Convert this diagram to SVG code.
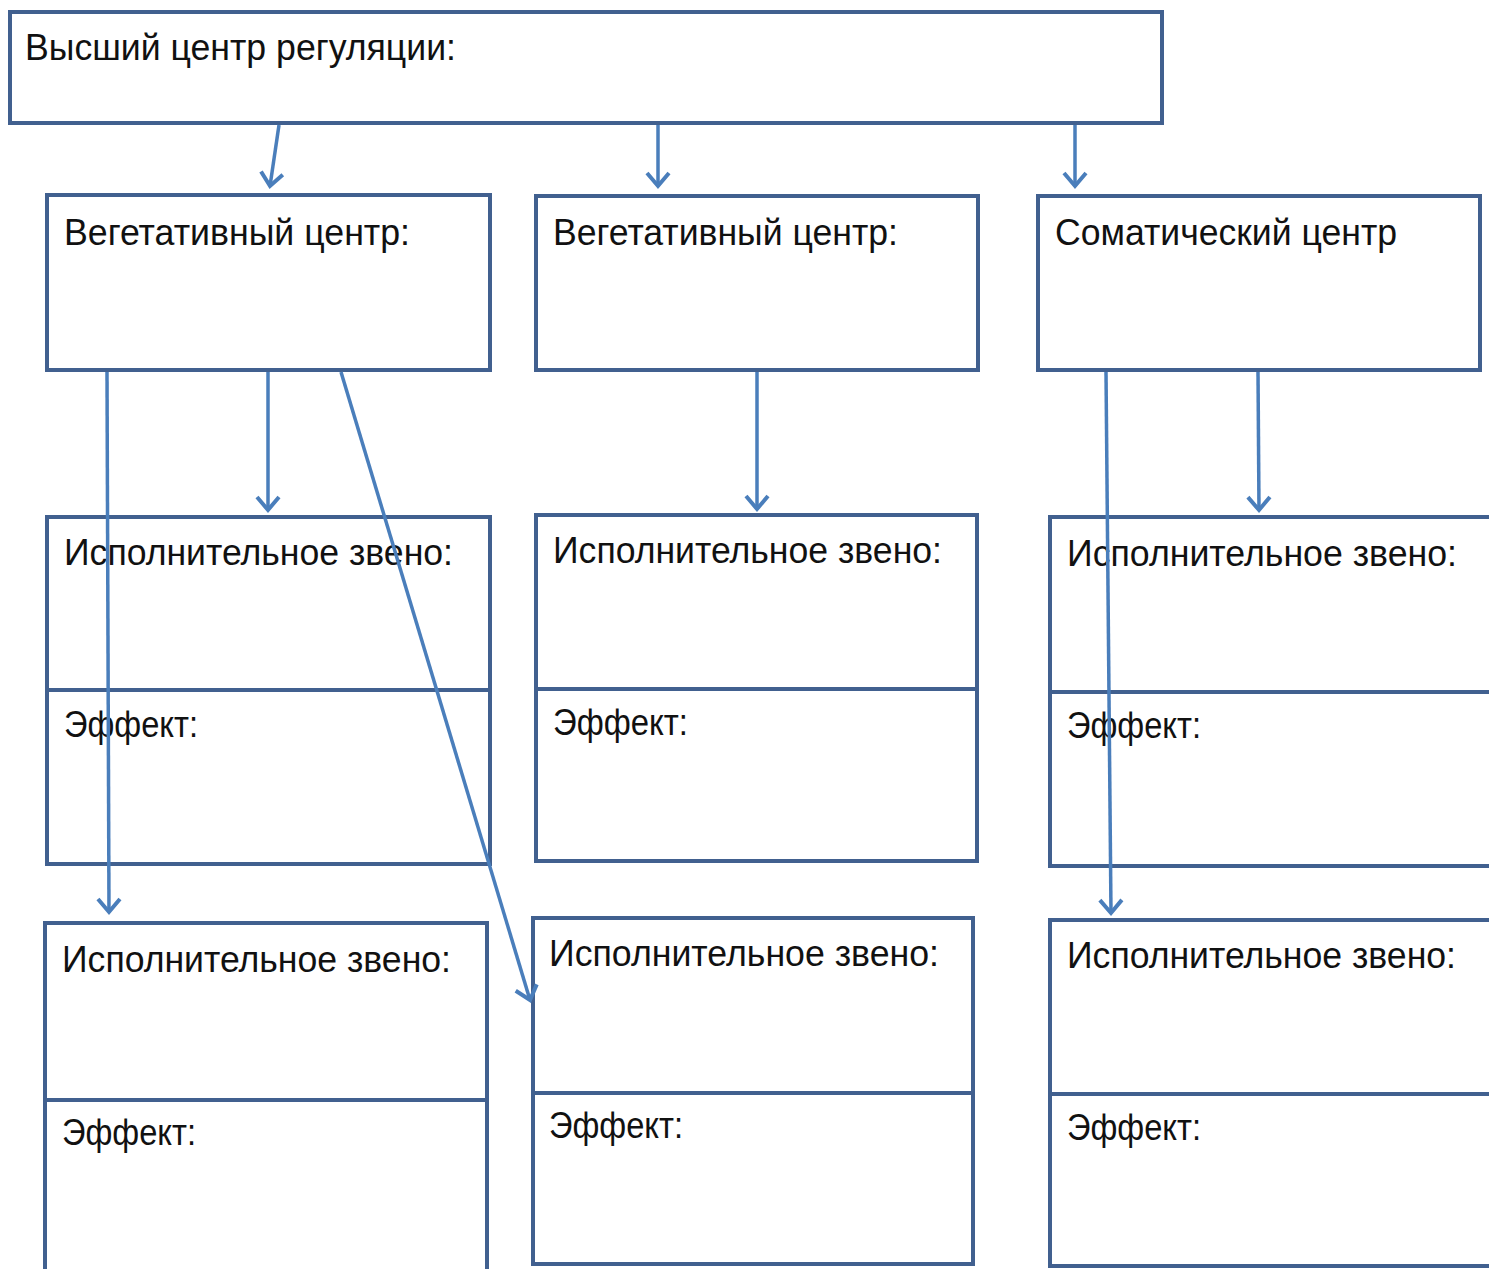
<svg xmlns="http://www.w3.org/2000/svg" width="1489" height="1269" viewBox="0 0 1489 1269">
<style>
.box{fill:#fff;stroke:#41608f;stroke-width:4}
.div{stroke:#41608f;stroke-width:4}
.t{font-family:"Liberation Sans",Arial,sans-serif;font-size:36px;fill:#111}
.c{fill:none;stroke:#4a7ebb;stroke-width:3.5;marker-end:url(#ah)}
</style>
<defs>
<marker id="ah" markerWidth="8" markerHeight="8" refX="6" refY="4" orient="auto" markerUnits="userSpaceOnUse" viewBox="0 0 8 8" overflow="visible">
<polyline points="-7,-7 6,4 -7,15" fill="none" stroke="#4a7ebb" stroke-width="4"/>
</marker>
</defs>
<rect width="1489" height="1269" fill="#fff"/>
<g id="top"><rect class="box" x="10" y="12" width="1152" height="111"/><text class="t" x="25" y="60" textLength="431" lengthAdjust="spacingAndGlyphs">Высший центр регуляции:</text></g>
<g id="vegA"><rect class="box" x="47" y="195" width="443" height="175"/><text class="t" x="64" y="245" textLength="346" lengthAdjust="spacingAndGlyphs">Вегетативный центр:</text></g>
<g id="vegB"><rect class="box" x="536" y="196" width="442" height="174"/><text class="t" x="553" y="245" textLength="345" lengthAdjust="spacingAndGlyphs">Вегетативный центр:</text></g>
<g id="som"><rect class="box" x="1038" y="196" width="442" height="174"/><text class="t" x="1055" y="245" textLength="342" lengthAdjust="spacingAndGlyphs">Соматический центр</text></g>
<g id="exec1"><rect class="box" x="47" y="517" width="443" height="347"/><line class="div" x1="47" y1="690" x2="490" y2="690"/><text class="t" x="64" y="565" textLength="389" lengthAdjust="spacingAndGlyphs">Исполнительное звено:</text><text class="t" x="64" y="737" textLength="134" lengthAdjust="spacingAndGlyphs">Эффект:</text></g>
<g id="exec2"><rect class="box" x="536" y="515" width="441" height="346"/><line class="div" x1="536" y1="689" x2="977" y2="689"/><text class="t" x="553" y="563" textLength="389" lengthAdjust="spacingAndGlyphs">Исполнительное звено:</text><text class="t" x="553" y="735" textLength="135" lengthAdjust="spacingAndGlyphs">Эффект:</text></g>
<g id="exec3"><rect class="box" x="1050" y="517" width="445" height="349"/><line class="div" x1="1050" y1="692" x2="1495" y2="692"/><text class="t" x="1067" y="566" textLength="390" lengthAdjust="spacingAndGlyphs">Исполнительное звено:</text><text class="t" x="1067" y="738" textLength="134" lengthAdjust="spacingAndGlyphs">Эффект:</text></g>
<g id="exec4"><rect class="box" x="45" y="923" width="442" height="360"/><line class="div" x1="45" y1="1100" x2="487" y2="1100"/><text class="t" x="62" y="972" textLength="389" lengthAdjust="spacingAndGlyphs">Исполнительное звено:</text><text class="t" x="62" y="1145" textLength="134" lengthAdjust="spacingAndGlyphs">Эффект:</text></g>
<g id="exec5"><rect class="box" x="533" y="918" width="440" height="346"/><line class="div" x1="533" y1="1093" x2="973" y2="1093"/><text class="t" x="549" y="966" textLength="390" lengthAdjust="spacingAndGlyphs">Исполнительное звено:</text><text class="t" x="549" y="1138" textLength="134" lengthAdjust="spacingAndGlyphs">Эффект:</text></g>
<g id="exec6"><rect class="box" x="1050" y="920" width="445" height="346"/><line class="div" x1="1050" y1="1094" x2="1495" y2="1094"/><text class="t" x="1067" y="968" textLength="389" lengthAdjust="spacingAndGlyphs">Исполнительное звено:</text><text class="t" x="1067" y="1140" textLength="134" lengthAdjust="spacingAndGlyphs">Эффект:</text></g>
<g id="connectors">
<line class="c" x1="279" y1="125" x2="270" y2="186"/>
<line class="c" x1="658" y1="125" x2="658" y2="186"/>
<line class="c" x1="1075" y1="125" x2="1075" y2="186"/>
<line class="c" x1="268" y1="372" x2="268" y2="510"/>
<line class="c" x1="107" y1="372" x2="109" y2="912"/>
<line class="c" x1="341" y1="372" x2="530" y2="1000"/>
<line class="c" x1="757" y1="372" x2="757" y2="509"/>
<line class="c" x1="1258" y1="372" x2="1259" y2="510"/>
<line class="c" x1="1106" y1="372" x2="1111" y2="913"/>
</g>
</svg>
